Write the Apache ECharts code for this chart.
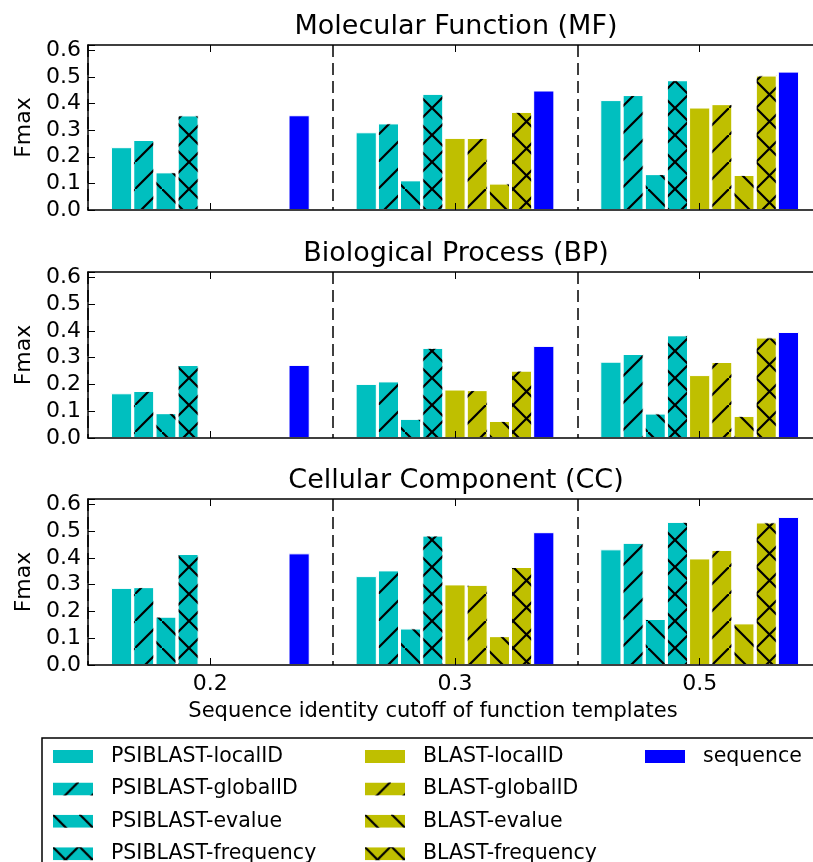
<!DOCTYPE html>
<html><head><meta charset="utf-8">
<script src="https://cdn.jsdelivr.net/npm/echarts@6/dist/echarts.min.js"></script>
<style>html,body{margin:0;padding:0;background:#fff}#c{width:813px;height:862px}</style>
</head><body><div id="c"></div>
<script>
const categories = ['0.2', '0.3', '0.5'];
const seriesNames = ['PSIBLAST-localID', 'PSIBLAST-globalID', 'PSIBLAST-evalue', 'PSIBLAST-frequency',
  'BLAST-localID', 'BLAST-globalID', 'BLAST-evalue', 'BLAST-frequency', 'sequence'];
const panelTitles = ['Molecular Function (MF)', 'Biological Process (BP)', 'Cellular Component (CC)'];
const xAxisTitle = 'Sequence identity cutoff of function templates';
const yAxisTitle = 'Fmax';

// rows follow seriesNames, columns follow categories
const mfValues = [
  [0.236, 0.292, 0.413],
  [0.263, 0.326, 0.432],
  [0.142, 0.112, 0.135],
  [0.356, 0.437, 0.488],
  [0.000, 0.271, 0.385],
  [0.000, 0.271, 0.398],
  [0.000, 0.100, 0.132],
  [0.000, 0.369, 0.506],
  [0.356, 0.449, 0.520]
];
const bpValues = [
  [0.167, 0.202, 0.285],
  [0.176, 0.212, 0.314],
  [0.093, 0.072, 0.092],
  [0.273, 0.337, 0.384],
  [0.003, 0.181, 0.235],
  [0.003, 0.179, 0.284],
  [0.000, 0.064, 0.083],
  [0.003, 0.252, 0.376],
  [0.273, 0.344, 0.396]
];
const ccValues = [
  [0.288, 0.332, 0.432],
  [0.291, 0.354, 0.457],
  [0.181, 0.137, 0.172],
  [0.415, 0.484, 0.535],
  [0.003, 0.301, 0.398],
  [0.003, 0.300, 0.430],
  [0.000, 0.108, 0.156],
  [0.003, 0.366, 0.533],
  [0.417, 0.496, 0.553]
];
const panelValues = [mfValues, bpValues, ccValues];

const FONT = 'DejaVu Sans';
const CYAN = '#00bfbf', OLIVE = '#bfbf00', BLUE = '#0000ff';
const seriesColors = [CYAN, CYAN, CYAN, CYAN, OLIVE, OLIVE, OLIVE, OLIVE, BLUE];
const seriesHatch = ['', '/', '\\', 'x', '', '/', '\\', 'x', ''];

const P = 27;
const slashPath = 'M0,25.4L25.4,0L27,0L27,1.6L1.6,27L0,27Z';
const backPath = 'M27,25.4L27,27L25.4,27L0,1.6L0,0L1.6,0Z';
function decalFor(h) {
  if (!h) return null;
  let p = h === '/' ? slashPath : (h === '\\' ? backPath : slashPath + backPath);
  return {
    symbol: 'path://' + p, symbolSize: 1, symbolKeepAspect: false,
    color: '#000', backgroundColor: null,
    dashArrayX: [P, 0], dashArrayY: [P, 0], rotation: 0
  };
}

const grids = [
  { left: 88, top: 45, width: 734, height: 165 },
  { left: 88, top: 272, width: 734, height: 166 },
  { left: 88, top: 499, width: 734, height: 166 }
].map(g => Object.assign({ outerBoundsMode: 'none', containLabel: false }, g));

const blackLine = { color: '#000', width: 1.5 };
const xAxes = [], yAxes = [], series = [];
for (let p = 0; p < 3; p++) {
  xAxes.push({
    type: 'category', gridIndex: p, data: categories, position: 'bottom', z: 3,
    axisLine: { show: true, onZero: false, lineStyle: blackLine },
    axisTick: { show: true, inside: true, alignWithLabel: true, length: 7, lineStyle: { color: '#000', width: 1 } },
    axisLabel: { show: p === 2, fontSize: 22, color: '#000', fontFamily: FONT, margin: 8 },
    splitLine: { show: true, lineStyle: { color: '#000', width: 1.5, type: [12, 6] } }
  });
  xAxes.push({
    type: 'category', gridIndex: p, data: categories, position: 'top', z: 3,
    axisLine: { show: true, onZero: false, lineStyle: blackLine },
    axisTick: { show: true, inside: true, alignWithLabel: true, length: 7, lineStyle: { color: '#000', width: 1 } },
    axisLabel: { show: false }, splitLine: { show: false }
  });
  yAxes.push({
    type: 'value', gridIndex: p, min: 0, max: 0.62, interval: 0.1, z: 3,
    name: yAxisTitle, nameLocation: 'middle', nameGap: 52,
    nameTextStyle: { fontSize: 22, color: '#000', fontFamily: FONT },
    axisLine: { show: true, lineStyle: blackLine },
    axisTick: { show: true, inside: true, length: 7, lineStyle: { color: '#000', width: 1 } },
    axisLabel: { fontSize: 22, color: '#000', fontFamily: FONT, margin: 7,
      formatter: v => (v > 0.605 ? '' : v.toFixed(1)) },
    splitLine: { show: false }
  });
  const vals = panelValues[p];
  for (let j = 0; j < seriesNames.length; j++) {
    const st = { color: seriesColors[j], borderColor: '#ffffff', borderWidth: 1 };
    const d = decalFor(seriesHatch[j]);
    if (d) st.decal = d;
    series.push({
      type: 'bar', name: seriesNames[j], xAxisIndex: 2 * p, yAxisIndex: p,
      data: vals[j], barWidth: 21.2, barGap: '4.7%',
      itemStyle: st, emphasis: { disabled: true }, silent: true
    });
  }
}

const titleTops = [13, 240, 467];
const titles = panelTitles.map((t, i) => ({
  text: t, left: 456, top: titleTops[i], textAlign: 'center', padding: 0,
  textStyle: { fontSize: 27, fontWeight: 'normal', color: '#000', fontFamily: FONT, lineHeight: 27 }
}));
titles.push({
  text: xAxisTitle, left: 433, top: 701, textAlign: 'center', padding: 0,
  textStyle: { fontSize: 21, fontWeight: 'normal', color: '#000', fontFamily: FONT, lineHeight: 21 }
});

const legendCols = [seriesNames.slice(0, 4), seriesNames.slice(4, 8), seriesNames.slice(8)];
const legendLefts = [51, 363, 643];
const legends = legendCols.map((names, k) => ({
  orient: 'vertical', left: legendLefts[k], top: 746, height: 200, padding: 0,
  data: names, icon: 'rect', itemWidth: 42, itemHeight: 15, itemGap: 11.4,
  selectedMode: false,
  textStyle: { fontSize: 20.5, color: '#000', fontFamily: FONT, lineHeight: 15, padding: [0, 0, 0, 12] }
}));

const chart = echarts.init(document.getElementById('c'), null, { renderer: 'canvas' });
chart.setOption({
  animation: false,
  backgroundColor: '#fff',
  title: titles,
  grid: grids,
  xAxis: xAxes,
  yAxis: yAxes,
  legend: legends,
  series: series,
  graphic: [{
    type: 'rect', shape: { x: 42, y: 738, width: 800, height: 200 },
    style: { fill: 'none', stroke: '#000', lineWidth: 1.5 }, silent: true
  }]
});
</script></body></html>
